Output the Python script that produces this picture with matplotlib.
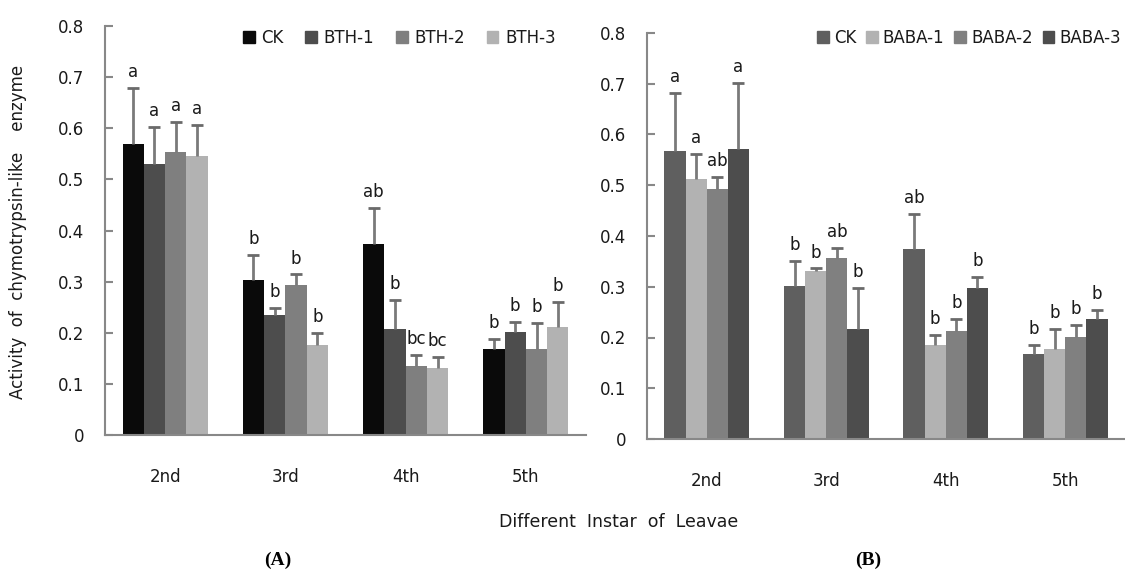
import numpy as np
import matplotlib.pyplot as plt
from matplotlib.patches import Patch

instars = ['2nd', '3rd', '4th', '5th']

# panel A: BTH treatments
bth_names = ['CK', 'BTH-1', 'BTH-2', 'BTH-3']
bth_mean = [[0.569, 0.304, 0.373, 0.169],
            [0.531, 0.235, 0.208, 0.201],
            [0.553, 0.293, 0.135, 0.169],
            [0.546, 0.177, 0.131, 0.212]]
bth_err = [[0.109, 0.048, 0.071, 0.018],
           [0.072, 0.014, 0.056, 0.021],
           [0.060, 0.021, 0.021, 0.050],
           [0.060, 0.022, 0.022, 0.048]]
bth_sig = [['a', 'b', 'ab', 'b'],
           ['a', 'b', 'b', 'b'],
           ['a', 'b', 'bc', 'b'],
           ['a', 'b', 'bc', 'b']]
bth_colors = ['#0a0a0a', '#4d4d4d', '#7f7f7f', '#b2b2b2']

# panel B: BABA treatments
baba_names = ['CK', 'BABA-1', 'BABA-2', 'BABA-3']
baba_mean = [[0.568, 0.302, 0.375, 0.167],
             [0.512, 0.332, 0.186, 0.178],
             [0.493, 0.356, 0.213, 0.201],
             [0.571, 0.217, 0.298, 0.237]]
baba_err = [[0.114, 0.048, 0.068, 0.018],
            [0.050, 0.004, 0.019, 0.039],
            [0.023, 0.021, 0.023, 0.023],
            [0.130, 0.080, 0.022, 0.017]]
baba_sig = [['a', 'b', 'ab', 'b'],
            ['a', 'b', 'b', 'b'],
            ['ab', 'ab', 'b', 'b'],
            ['a', 'b', 'b', 'b']]
baba_colors = ['#5f5f5f', '#b2b2b2', '#808080', '#4d4d4d']

txt = '#1a1a1a'
fs = 12
fig = plt.figure(figsize=(11.25, 5.7), dpi=100)
axA = fig.add_axes([105/1125, 1-435/570, 481/1125, 409/570])
axB = fig.add_axes([647/1125, 1-439/570, 478/1125, 406/570])


def panel(ax, names, means, errs, sigs, colors):
    x = np.arange(len(instars))
    w = 0.177
    for i, name in enumerate(names):
        xs = x + (i - 1.5) * w
        top = np.array(means[i]) + np.array(errs[i])
        ax.bar(xs, means[i], w, color=colors[i], label=name, zorder=2)
        # upper error bars only, with a cap on top
        ax.vlines(xs, means[i], top, color='#7a7a7a', lw=2, zorder=3)
        ax.plot(xs, top, ls='none', marker='_', ms=8, mew=2, color='#6a6a6a', zorder=3)
        for xx, t, s in zip(xs, top, sigs[i]):
            ax.annotate(s, (xx, t), xytext=(0, 5), textcoords='offset points',
                        ha='center', va='bottom', fontsize=fs, color=txt)
    ax.set_xlim(-0.5, 3.5)
    ax.set_ylim(0, 0.8)
    ax.set_yticks(np.arange(0, 0.81, 0.1))
    ax.set_yticklabels(['0'] + [f'{v:.1f}' for v in np.arange(0.1, 0.81, 0.1)])
    ax.set_xticks(x)
    ax.set_xticklabels(instars)
    for sp in ['top', 'right']:
        ax.spines[sp].set_visible(False)
    for sp in ['left', 'bottom']:
        ax.spines[sp].set_color('#888888')
        ax.spines[sp].set_linewidth(1.5)
    ax.tick_params(axis='y', direction='in', length=6, width=1.5, color='#888888',
                   labelsize=fs, labelcolor=txt, pad=15)
    ax.tick_params(axis='x', length=0, labelsize=fs, labelcolor=txt, pad=24)


panel(axA, bth_names, bth_mean, bth_err, bth_sig, bth_colors)
panel(axB, baba_names, baba_mean, baba_err, baba_sig, baba_colors)

legA = [Patch(color=c, label=n) for c, n in zip(bth_colors, bth_names)]
fig.legend(handles=legA, loc='center left', bbox_to_anchor=(243/1125, 1-38/570),
           ncol=4, frameon=False, fontsize=fs, handlelength=0.7, handleheight=0.7,
           handletextpad=0.4, columnspacing=1.3, borderpad=0, borderaxespad=0,
           labelcolor=txt)
legB = [Patch(color=c, label=n) for c, n in zip(baba_colors, baba_names)]
fig.legend(handles=legB, loc='center left', bbox_to_anchor=(817/1125, 1-38/570),
           ncol=4, frameon=False, fontsize=fs, handlelength=0.7, handleheight=0.7,
           handletextpad=0.3, columnspacing=0.6, borderpad=0, borderaxespad=0,
           labelcolor=txt)

fig.text(18/1125, 1-232/570, 'Activity  of  chymotrypsin-like    enzyme', rotation=90,
         ha='center', va='center', fontsize=fs, color=txt)
fig.text(619/1125, 1-522/570, 'Different  Instar  of  Leavae', ha='center', va='center',
         fontsize=12.5, color=txt)
fig.text(278/1125, 1-560/570, '(A)', ha='center', va='center', fontsize=14,
         fontweight='bold', family='Liberation Serif')
fig.text(868/1125, 1-560/570, '(B)', ha='center', va='center', fontsize=14,
         fontweight='bold', family='Liberation Serif')

fig.savefig('out.png', dpi=100)
